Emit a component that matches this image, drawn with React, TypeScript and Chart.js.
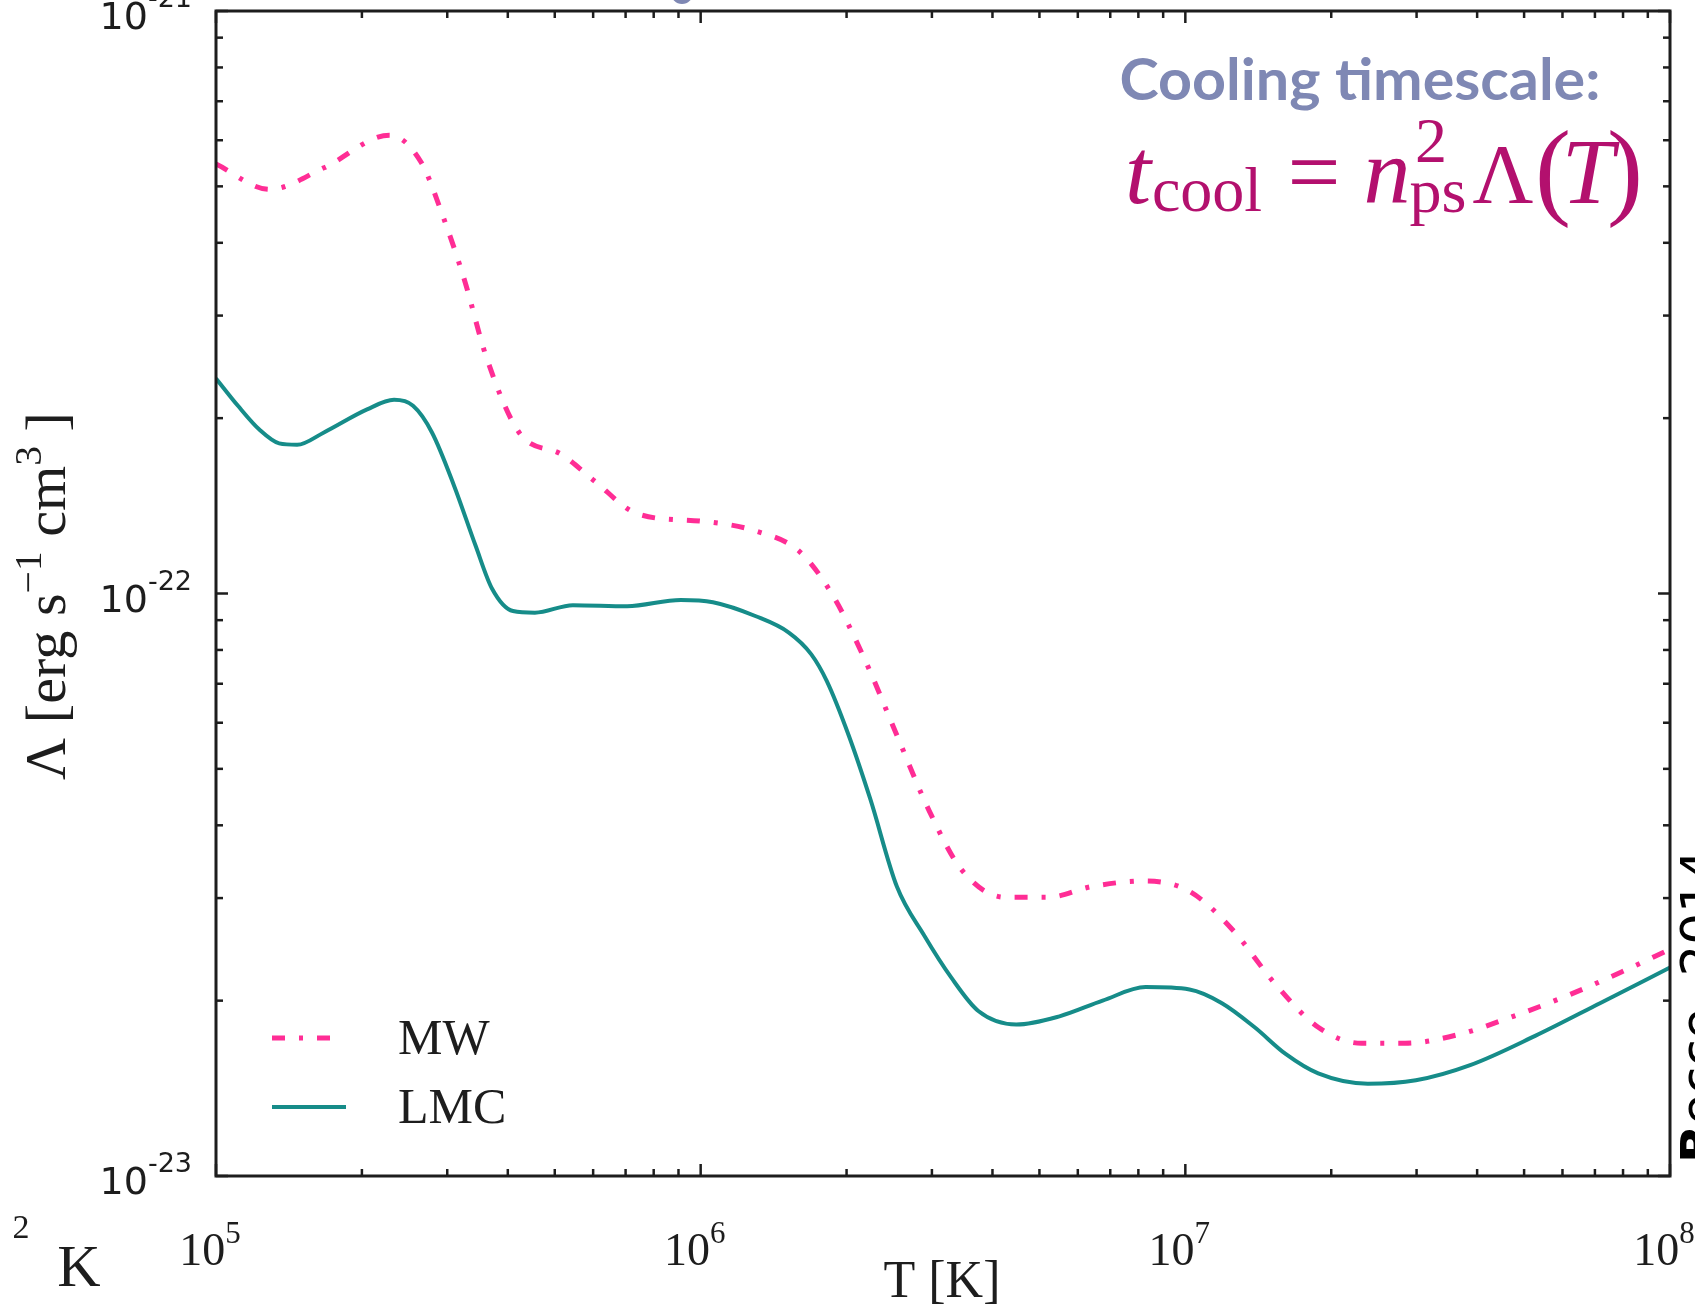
import React, { useEffect, useRef } from "react";
import { Chart, registerables } from "chart.js";

Chart.register(...registerables);

// ---- data ----
const mwTemperatureK = [
  1.0e5, 1.29e5, 1.67e5, 2.28e5, 2.65e5, 2.94e5, 3.26e5, 3.61e5, 4.22e5, 5.18e5,
  6.04e5, 7.41e5, 1.01e6, 1.3e6, 1.6e6, 1.87e6, 2.18e6, 2.54e6, 2.96e6, 3.46e6,
  4.25e6, 5.22e6, 6.41e6, 8.28e6, 1.02e7, 1.25e7, 1.53e7, 1.88e7, 2.31e7, 2.84e7,
  3.67e7, 4.75e7, 6.14e7, 7.94e7, 1.0e8,
];
const mwLambda = [
  5.46e-22, 4.94e-22, 5.38e-22, 6.12e-22, 5.5e-22, 4.44e-22, 3.44e-22, 2.55e-22, 1.89e-22, 1.73e-22,
  1.56e-22, 1.37e-22, 1.33e-22, 1.28e-22, 1.18e-22, 9.95e-23, 7.71e-23, 5.71e-23, 4.24e-23, 3.35e-23,
  3.01e-23, 3.01e-23, 3.14e-23, 3.21e-23, 3.08e-23, 2.65e-23, 2.14e-23, 1.8e-23, 1.69e-23, 1.69e-23,
  1.75e-23, 1.88e-23, 2.04e-23, 2.24e-23, 2.45e-23,
];
const lmcTemperatureK = [
  1.0e5, 1.11e5, 1.23e5, 1.35e5, 1.47e5, 1.67e5, 2.05e5, 2.33e5, 2.55e5, 2.79e5,
  3.1e5, 3.43e5, 3.71e5, 4.1e5, 4.55e5, 5.45e5, 7.05e5, 9.1e5, 1.06e6, 1.3e6,
  1.52e6, 1.69e6, 1.82e6, 2.02e6, 2.24e6, 2.54e6, 2.89e6, 3.29e6, 3.74e6, 4.48e6,
  5.5e6, 6.75e6, 8.28e6, 1.02e7, 1.19e7, 1.39e7, 1.61e7, 1.88e7, 2.38e7, 2.99e7,
  3.87e7, 5.27e7, 7.17e7, 1.0e8,
];
const lmcLambda = [
  2.34e-22, 2.1e-22, 1.91e-22, 1.81e-22, 1.8e-22, 1.89e-22, 2.07e-22, 2.15e-22, 2.1e-22, 1.89e-22,
  1.53e-22, 1.21e-22, 1.02e-22, 9.33e-23, 9.27e-23, 9.55e-23, 9.51e-23, 9.75e-23, 9.66e-23, 9.14e-23,
  8.57e-23, 7.87e-23, 7.08e-23, 5.71e-23, 4.43e-23, 3.14e-23, 2.59e-23, 2.19e-23, 1.92e-23, 1.82e-23,
  1.88e-23, 2.0e-23, 2.11e-23, 2.09e-23, 1.98e-23, 1.8e-23, 1.62e-23, 1.5e-23, 1.44e-23, 1.46e-23,
  1.55e-23, 1.74e-23, 1.98e-23, 2.28e-23,
];
const seriesLabels = ["MW", "LMC"];

const xMajorTicks = [1e5, 1e6, 1e7, 1e8];
const xTickExponents = ["5", "6", "7", "8"];
const xMinorDecades = [1e5, 1e6, 1e7];
const yMajorTicks = [1e-23, 1e-22, 1e-21];
const yTickExponents = ["-23", "-22", "-21"];
const yMinorDecades = [1e-23, 1e-22];
const minorMultipliers = [2, 3, 4, 5, 6, 7, 8, 9];

const INK = "#1d1d1d";
const MW_COLOR = "#ff2d95";
const LMC_COLOR = "#168c89";
const MW_DASH = [13, 14, 4, 14];

function drawSupLabel(
  ctx: CanvasRenderingContext2D,
  base: string,
  sup: string,
  x: number,
  baseY: number,
  supY: number,
  baseFont: string,
  supFont: string,
  align: "center" | "right"
) {
  ctx.font = baseFont;
  const wb = ctx.measureText(base).width;
  ctx.font = supFont;
  const ws = ctx.measureText(sup).width;
  const total = wb + ws;
  const left = align === "center" ? x - total / 2 : x - total;
  ctx.textAlign = "left";
  ctx.textBaseline = "alphabetic";
  ctx.font = baseFont;
  ctx.fillText(base, left, baseY);
  ctx.font = supFont;
  ctx.fillText(sup, left + wb, supY);
}

const decorPlugin = {
  id: "decor",
  beforeDraw(chart: any) {
    const { ctx, width, height } = chart;
    ctx.save();
    ctx.fillStyle = "#ffffff";
    ctx.fillRect(0, 0, width, height);
    ctx.restore();
  },
  afterDatasetsDraw(chart: any) {
    const { ctx, chartArea: a } = chart;
    const xs = chart.scales.x;
    const ys = chart.scales.y;
    ctx.save();
    ctx.strokeStyle = INK;
    ctx.fillStyle = INK;
    ctx.lineCap = "butt";
    const seg = (x1: number, y1: number, x2: number, y2: number) => {
      ctx.beginPath();
      ctx.moveTo(x1, y1);
      ctx.lineTo(x2, y2);
      ctx.stroke();
    };
    const MAJ = 12;
    const MIN = 7;
    ctx.lineWidth = 2.5;
    const xTick = (v: number, len: number) => {
      const px = xs.getPixelForValue(v);
      seg(px, a.bottom, px, a.bottom - len);
      seg(px, a.top, px, a.top + len);
    };
    const yTick = (v: number, len: number) => {
      const py = ys.getPixelForValue(v);
      seg(a.left, py, a.left + len, py);
      seg(a.right, py, a.right - len, py);
    };
    xMajorTicks.forEach((v) => xTick(v, MAJ));
    xMinorDecades.forEach((d) => minorMultipliers.forEach((m) => xTick(d * m, MIN)));
    yMajorTicks.forEach((v) => yTick(v, MAJ));
    yMinorDecades.forEach((d) => minorMultipliers.forEach((m) => yTick(d * m, MIN)));

    // frame
    ctx.lineWidth = 3;
    ctx.strokeRect(a.left, a.top, a.right - a.left, a.bottom - a.top);

    // x tick labels
    xMajorTicks.forEach((v, i) => {
      const px = xs.getPixelForValue(v);
      drawSupLabel(ctx, "10", xTickExponents[i], px - 6, 1265, 1243,
        "46px 'Liberation Serif'", "31px 'Liberation Serif'", "center");
    });
    // y tick labels
    yMajorTicks.forEach((v, i) => {
      const py = ys.getPixelForValue(v);
      drawSupLabel(ctx, "10", yTickExponents[i], a.left - 24, py + 18, py - 4,
        "38px 'DejaVu Sans'", "27px 'DejaVu Sans'", "right");
    });

    // x title
    ctx.font = "52px 'Liberation Serif'";
    ctx.textAlign = "center";
    ctx.textBaseline = "alphabetic";
    ctx.fillText("T [K]", 942, 1297);

    // y title (rotated)
    {
      const main = "56px 'Liberation Serif'";
      const sup = "38px 'Liberation Serif'";
      const pieces: [string, string, number][] = [
        ["Λ", main, 0], [" ", main, 0], ["[", main, 0], ["erg", main, 0], [" ", main, 0],
        ["s", main, 0], ["−1", sup, -24], [" ", main, 0], ["cm", main, 0], ["3", sup, -24],
        [" ", main, 0], ["]", main, 0],
      ];
      let total = 0;
      const widths = pieces.map(([t, f]) => {
        ctx.font = f;
        const w = ctx.measureText(t).width;
        total += w;
        return w;
      });
      const target = 368;
      ctx.save();
      ctx.translate(65, 596);
      ctx.rotate(-Math.PI / 2);
      ctx.scale(target / total, 1);
      ctx.textAlign = "left";
      let cx = -total / 2;
      pieces.forEach(([t, f, dy], i) => {
        ctx.font = f;
        ctx.fillText(t, cx, dy);
        cx += widths[i];
      });
      ctx.restore();
    }

    // legend
    {
      const ds = chart.data.datasets;
      const rows = [
        { y: 1038, x2: 336 },
        { y: 1107, x2: 346 },
      ];
      rows.forEach((r, i) => {
        ctx.save();
        ctx.strokeStyle = ds[i].borderColor;
        ctx.lineWidth = ds[i].borderWidth;
        ctx.setLineDash(ds[i].borderDash || []);
        seg(272, r.y, r.x2, r.y);
        ctx.restore();
        ctx.font = "50px 'Liberation Serif'";
        ctx.textAlign = "left";
        ctx.textBaseline = "alphabetic";
        ctx.fillStyle = INK;
        ctx.fillText(ds[i].label, 398, r.y + 16);
      });
    }

    // annotation: Cooling timescale
    {
      ctx.save();
      ctx.fillStyle = "#7f88b4";
      ctx.font = "bold 58px Lato";
      const txt = "Cooling timescale:";
      const w = ctx.measureText(txt).width;
      const target = 481;
      ctx.translate(1360, 100);
      ctx.scale(target / w, 1);
      ctx.textAlign = "center";
      ctx.fillText(txt, 0, 0);
      ctx.restore();
    }
    // formula
    {
      ctx.save();
      ctx.fillStyle = "#b3106e";
      ctx.textAlign = "center";
      ctx.textBaseline = "alphabetic";
      const it = "italic 94px 'Liberation Serif'";
      const rm = "94px 'Liberation Serif'";
      const lam = "84px 'Liberation Serif'";
      const par = "108px 'Liberation Serif'";
      const sm = "64px 'Liberation Serif'";
      const parts: [string, string, number, number][] = [
        ["t", it, 1138, 203],
        ["cool", sm, 1207, 211],
        ["=", rm, 1314, 203],
        ["n", it, 1387, 203],
        ["2", sm, 1431, 162],
        ["ps", sm, 1438, 212],
        ["Λ", lam, 1503, 203],
        ["(", par, 1553, 205],
        ["T", it, 1588, 203],
        [")", par, 1625, 205],
      ];
      parts.forEach(([t, f, x, y]) => {
        ctx.font = f;
        ctx.fillText(t, x, y);
      });
      ctx.restore();
    }

    // slide remnants
    ctx.fillStyle = INK;
    ctx.textAlign = "center";
    ctx.font = "34px 'Liberation Serif'";
    ctx.fillText("2", 21, 1238);
    ctx.font = "60px 'Liberation Serif'";
    ctx.fillText("K", 79, 1286);

    ctx.save();
    ctx.fillStyle = "#7f88b4";
    ctx.beginPath();
    ctx.arc(682, -7, 11, 0, Math.PI * 2);
    ctx.fill();
    ctx.restore();

    ctx.save();
    ctx.fillStyle = "#000000";
    ctx.translate(1716, 1163);
    ctx.rotate(-Math.PI / 2);
    ctx.textAlign = "left";
    ctx.font = "bold 50px 'DejaVu Sans'";
    ctx.fillText("B", 0, 0);
    const wB = ctx.measureText("B").width;
    ctx.font = "50px 'DejaVu Sans'";
    ctx.fillText("ecce, 2014", wB, 0);
    ctx.restore();

    ctx.restore();
  },
};

export default function App() {
  const canvasRef = useRef<HTMLCanvasElement | null>(null);

  useEffect(() => {
    if (!canvasRef.current) return;
    const chart = new Chart(canvasRef.current, {
      type: "line",
      data: {
        datasets: [
          {
            label: seriesLabels[0],
            data: mwTemperatureK.map((t, i) => ({ x: t, y: mwLambda[i] })),
            borderColor: MW_COLOR,
            borderWidth: 5,
            borderDash: MW_DASH,
            pointRadius: 0,
            fill: false,
            cubicInterpolationMode: "monotone",
          },
          {
            label: seriesLabels[1],
            data: lmcTemperatureK.map((t, i) => ({ x: t, y: lmcLambda[i] })),
            borderColor: LMC_COLOR,
            borderWidth: 4,
            pointRadius: 0,
            fill: false,
            cubicInterpolationMode: "monotone",
          },
        ],
      },
      options: {
        responsive: false,
        animation: false,
        devicePixelRatio: 1,
        layout: { padding: { left: 216, top: 11, right: 25, bottom: 136 } },
        plugins: {
          legend: { display: false },
          tooltip: { enabled: false },
          title: { display: false },
        },
        scales: {
          x: { type: "logarithmic", min: 1e5, max: 1e8, display: false },
          y: { type: "logarithmic", min: 1e-23, max: 1e-21, display: false },
        },
      },
      plugins: [decorPlugin],
    } as any);
    return () => chart.destroy();
  }, []);

  return (
    <div style={{ position: "absolute", left: 0, top: 0, width: 1695, height: 1312, overflow: "hidden" }}>
      <canvas ref={canvasRef} width={1695} height={1312} style={{ display: "block" }} />
    </div>
  );
}
